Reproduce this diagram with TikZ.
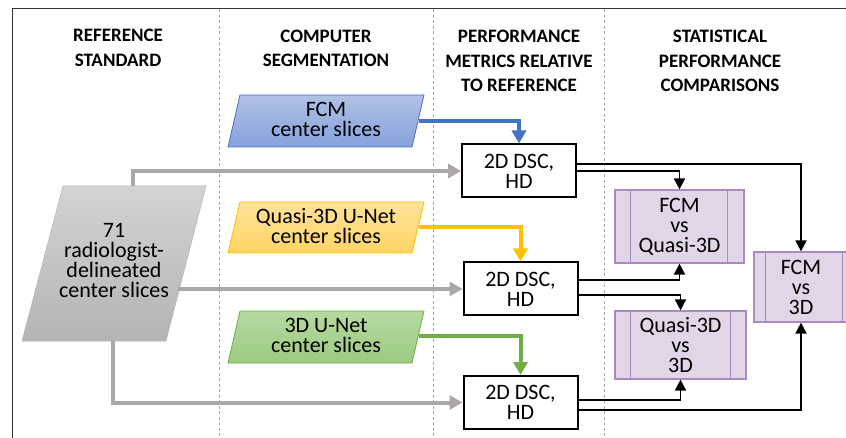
\documentclass[tikz,border=0pt]{standalone}
\usepackage{fontspec}
\setmainfont{Carlito}
\usetikzlibrary{arrows.meta}
\definecolor{frameC}{HTML}{333333}
\definecolor{sepC}{HTML}{A6A6A6}
\definecolor{linkgray}{HTML}{ABA7A7}
\definecolor{blueB}{HTML}{4472C4}
\definecolor{blueT}{HTML}{B1C0E6}
\definecolor{blueBt}{HTML}{86A2DB}
\definecolor{yelB}{HTML}{FFC000}
\definecolor{yelT}{HTML}{FFE29A}
\definecolor{yelBt}{HTML}{FFD464}
\definecolor{grnB}{HTML}{70AD47}
\definecolor{grnT}{HTML}{B6D9A0}
\definecolor{grnBt}{HTML}{9CCB80}
\definecolor{grayT}{HTML}{D3D3D3}
\definecolor{grayBt}{HTML}{B4B4B4}
\definecolor{purpF}{HTML}{E1D5E7}
\definecolor{purpB}{HTML}{A98BC4}
\begin{document}
\begin{tikzpicture}[x=1pt,y=-1pt,
  body/.style={font=\fontsize{22}{20}\selectfont, align=center, inner sep=0pt},
  title/.style={font=\bfseries\fontsize{19}{24.5}\selectfont, align=center, inner sep=0pt},
  metric/.style={body, draw=black, line width=2pt, fill=white, minimum width=114pt, minimum height=53pt},
  cmp/.style={body, draw=purpB, fill=purpF, line width=1.2pt},
  sep/.style={draw=sepC, line width=1pt, dash pattern=on 3pt off 2.5pt},
  graylink/.style={draw=linkgray, line width=4pt, -{Triangle[length=13pt,width=14pt]}},
  collink/.style={line width=4pt, -{Triangle[length=13pt,width=14pt]}},
  blklink/.style={draw=black, line width=1.8pt, -{Triangle[length=11pt,width=11pt]}}
]
\useasboundingbox (0,0) rectangle (846,438);
\fill[white] (0,0) rectangle (846,438);

% frame and separators
\draw[frameC, line width=1.6pt] (12.5,440) -- (12.5,8.5) -- (848,8.5);
\draw[sep] (219,9.5) -- (219,438);
\draw[sep] (433,9.5) -- (433,438);
\draw[sep] (604,9.5) -- (604,438);

% titles
\node[title] (t1) at (118,48) {REFERENCE\\STANDARD};
\node[title] (t2) at (326,48.5) {COMPUTER\\SEGMENTATION};
\node[title] (t3) at (519,61) {PERFORMANCE\\METRICS RELATIVE\\TO REFERENCE};
\node[title] (t4) at (720,61) {STATISTICAL\\PERFORMANCE\\COMPARISONS};

% parallelograms
\path[draw=blueB, line width=0.8pt, top color=blueT, bottom color=blueBt]
  (240,95) -- (424,95) -- (412,147) -- (228,147) -- cycle;
\node[body] (fcm) at (326,119) {FCM\\center slices};
\coordinate (fcmR) at (418.5,121);

\path[draw=yelB, line width=0.8pt, top color=yelT, bottom color=yelBt]
  (240,202) -- (424,202) -- (412,253) -- (228,253) -- cycle;
\node[body] (q3d) at (326,226.5) {Quasi-3D U-Net\\center slices};
\coordinate (q3dR) at (418.5,227);

\path[draw=grnB, line width=0.8pt, top color=grnT, bottom color=grnBt]
  (240,311) -- (424,311) -- (412,363) -- (228,363) -- cycle;
\node[body] (u3d) at (326,335.5) {3D U-Net\\center slices};
\coordinate (u3dR) at (418.5,336);

\path[draw=grayBt, line width=0.5pt, top color=grayT, bottom color=grayBt]
  (63,186) -- (206,186) -- (166,341) -- (22,341) -- cycle;
\node[body] (ref) at (114,261) {71\\radiologist-\\delineated\\center slices};
\coordinate (g1) at (133,186);
\coordinate (g2) at (178,289);
\coordinate (g3) at (113,341);

% metric boxes
\node[metric] (b1) at (519,171) {2D DSC,\\HD};
\node[metric] (b2) at (520.5,289) {2D DSC,\\HD};
\node[metric] (b3) at (520.5,402.5) {2D DSC,\\HD};

% comparison boxes
\node[cmp, minimum width=129pt, minimum height=73pt] (c1) at (679.5,226.5) {FCM\\vs\\Quasi-3D};
\node[cmp, minimum width=131pt, minimum height=68pt] (c2) at (680.5,345) {Quasi-3D\\vs\\3D};
\node[cmp, minimum width=94pt, minimum height=70pt] (c3) at (801,287) {FCM\\vs\\3D};
\draw[purpB, line width=1.2pt] ([xshift=16pt]c1.north west) -- ([xshift=16pt]c1.south west)
  ([xshift=-17pt]c1.north east) -- ([xshift=-17pt]c1.south east);
\draw[purpB, line width=1.2pt] ([xshift=16pt]c2.north west) -- ([xshift=16pt]c2.south west)
  ([xshift=-16pt]c2.north east) -- ([xshift=-16pt]c2.south east);
\draw[purpB, line width=1.2pt] ([xshift=12pt]c3.north west) -- ([xshift=12pt]c3.south west)
  ([xshift=-6pt]c3.north east) -- ([xshift=-6pt]c3.south east);

% gray links
\draw[graylink] (g1) |- (b1.west);
\draw[graylink] (g2) -- (b2.west);
\draw[graylink] (g3) |- (b3.west);

% colored links
\draw[collink, draw=blueB] (fcmR) -| (b1.north);
\draw[collink, draw=yelB] (q3dR) -| (b2.north);
\draw[collink, draw=grnB] (u3dR) -| (b3.north);

% black links
\draw[blklink] ([yshift=7pt]b1.east) -| (c3.north);
\draw[blklink] (b1.east) -| (c1.north);
\draw[blklink] ([yshift=9pt]b2.east) -| (c1.south);
\draw[blklink] ([yshift=-6pt]b2.east) -| (c2.north);
\draw[blklink] ([yshift=2.5pt]b3.east) -| (c2.south);
\draw[blklink] ([yshift=-7.5pt]b3.east) -| (c3.south);
\end{tikzpicture}
\end{document}
